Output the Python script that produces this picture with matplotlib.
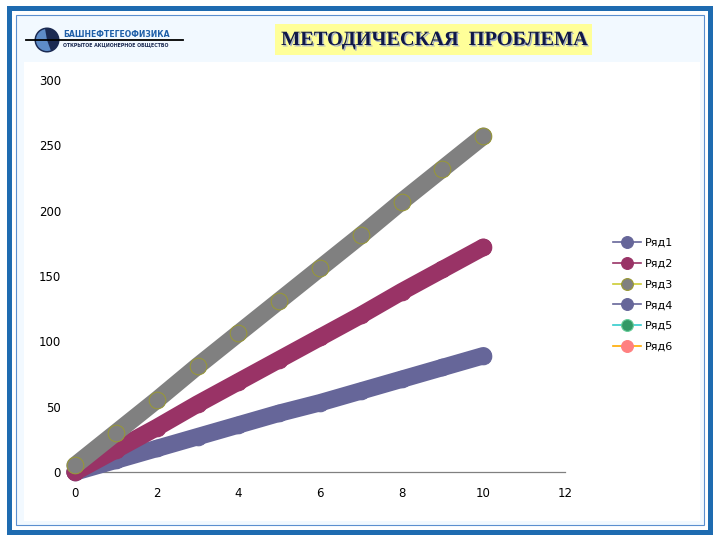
import matplotlib
matplotlib.use('Agg')
import matplotlib.pyplot as plt
from matplotlib.patches import Rectangle, Circle, Wedge
from matplotlib.lines import Line2D
import matplotlib.patheffects as pe

# data
x = [0, 1, 2, 3, 4, 5, 6, 7, 8, 9, 10]
ryad1 = [0, 9, 18, 27, 36, 45, 53, 62, 71, 80, 89]
ryad2 = [0, 17, 34, 52, 69, 86, 103, 120, 138, 155, 172]
ryad3 = [5, 30, 55, 81, 106, 131, 156, 181, 207, 232, 257]

names = ['Ряд1', 'Ряд2', 'Ряд3', 'Ряд4', 'Ряд5', 'Ряд6']
line_colors = ['#666699', '#993366', '#CCCC33', '#666699', '#33CCCC', '#FFAA00']
face_colors = ['#666699', '#993366', '#808080', '#666699', '#339966', '#FF8080']
edge_colors = ['#666699', '#993366', '#999933', '#666699', '#66CC99', '#FF8080']

title = 'МЕТОДИЧЕСКАЯ  ПРОБЛЕМА'

fig = plt.figure(figsize=(7.2, 5.4), dpi=100)
fig.patch.set_facecolor('white')

# slide background, drawn in pixel coords
bg = fig.add_axes([0, 0, 1, 1])
bg.set_xlim(0, 720)
bg.set_ylim(540, 0)
bg.axis('off')
bg.add_patch(Rectangle((16, 15), 688, 510, fc='#F2F9FF', ec='#5B8FCF', lw=0.8))
bg.add_patch(Rectangle((9, 8), 700.5, 524, fill=False, ec='#1E6BB0', lw=3.6))
bg.add_patch(Rectangle((24, 62), 676, 459, fc='white', ec='none'))

# title box
bg.add_patch(Rectangle((275, 24), 317, 31, fc='#FFFF99', ec='none'))
bg.text(434, 40, title, ha='center', va='center', fontsize=14.6,
        family='Liberation Serif', weight='bold', color='#101848',
        path_effects=[pe.withSimplePatchShadow(offset=(1, -1), shadow_rgbFace='#9AA6C8', alpha=0.9)])

# company logo
bg.add_patch(Circle((47, 40), 12.5, fc='#1B2A52', ec='none'))
bg.add_patch(Wedge((47, 40), 11, 70, 260, fc='#5E8CC8', ec='none'))
bg.plot([26, 183], [40, 40], color='black', lw=1.3)
bg.text(63, 34.5, 'БАШНЕФТЕГЕОФИЗИКА', ha='left', va='center', fontsize=5.6,
        weight='bold', color='#1F5FA8')
bg.text(63, 45, 'ОТКРЫТОЕ АКЦИОНЕРНОЕ ОБЩЕСТВО', ha='left', va='center', fontsize=3.4,
        weight='bold', color='#1B2A52')

# chart
ax = fig.add_axes([75 / 720, 1 - 472 / 540, 490 / 720, 392 / 540])
ax.patch.set_alpha(0)
for i, y in enumerate([ryad1, ryad2, ryad3]):
    ax.plot(x, y, color=face_colors[i], lw=12.5, solid_capstyle='round',
            marker='o', ms=12, mfc=face_colors[i], mec=edge_colors[i], mew=0.7,
            clip_on=False, zorder=3 + i)

ax.set_xlim(0, 12)
ax.set_ylim(0, 300)
ax.set_xticks(range(0, 13, 2))
ax.set_yticks(range(0, 301, 50))
ax.set_xticks([12], minor=True)
ax.tick_params(axis='both', which='major', length=0, labelsize=8.5, colors='black')
ax.tick_params(axis='y', pad=10)
ax.tick_params(axis='x', pad=10.5)
ax.tick_params(axis='x', which='minor', length=4, color='#808080', width=0.8)
for s in ['top', 'right', 'left']:
    ax.spines[s].set_visible(False)
ax.spines['bottom'].set_color('#808080')
ax.spines['bottom'].set_linewidth(0.9)

handles = [Line2D([], [], color=line_colors[i], lw=1.2, marker='o', ms=8.5,
                  mfc=face_colors[i], mec=edge_colors[i], mew=0.8)
           for i in range(len(names))]
fig.legend(handles, names, loc='upper left', bbox_to_anchor=(613 / 720, 1 - 238 / 540),
           frameon=False, fontsize=8, handlelength=2.5, handletextpad=0.35,
           labelspacing=0.97, borderpad=0, borderaxespad=0)

fig.savefig('out.png', dpi=100)
